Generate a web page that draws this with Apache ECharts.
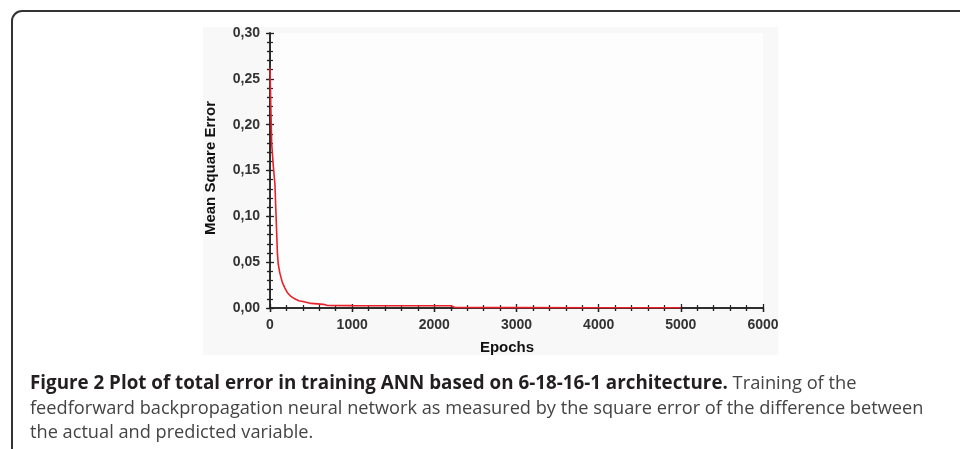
<!DOCTYPE html>
<html>
<head>
<meta charset="utf-8">
<script src="https://cdn.jsdelivr.net/npm/echarts@6/dist/echarts.min.js"></script>
<style>
html,body{margin:0;padding:0;background:#fff;}
#chart{width:960px;height:449px;}
</style>
</head>
<body>
<div id="chart"></div>
<script>
// Data
const epochs = [0, 10, 20, 40, 60, 70, 80, 90, 100, 120, 150, 180, 210, 250, 300, 350, 400, 500, 650, 700, 1000, 1500, 2000, 2200, 2250, 3000, 4000, 5000];
const mse    = [0.262, 0.22, 0.18, 0.155, 0.135, 0.11, 0.085, 0.06, 0.048, 0.038, 0.028, 0.022, 0.017, 0.013, 0.010, 0.008, 0.007, 0.005, 0.004, 0.0028, 0.0026, 0.0025, 0.0025, 0.0024, 0.0005, 0.0004, 0.0003, 0.0003];
const xTicks = [0, 1000, 2000, 3000, 4000, 5000, 6000];
const yTicks = [0, 0.05, 0.10, 0.15, 0.20, 0.25, 0.30];
const xTitle = 'Epochs';
const yTitle = 'Mean Square Error';
const captionBold = 'Figure 2 Plot of total error in training ANN based on 6-18-16-1 architecture.';
const captionLines = [
  ' Training of the',
  'feedforward backpropagation neural network as measured by the square error of the difference between',
  'the actual and predicted variable.'
];

const chart = echarts.init(document.getElementById('chart'));
const tickStyle = {color: '#222', width: 1.3};
const minorStyle = {color: '#222', width: 1.2};
const xMin = xTicks[0], xMax = xTicks[xTicks.length - 1];
const yMin = yTicks[0], yMax = yTicks[yTicks.length - 1];

function mkAxis(isX, extra) {
  return Object.assign({
    type: 'value',
    min: isX ? xMin : yMin, max: isX ? xMax : yMax, interval: isX ? 1000 : 0.05,
    splitLine: {show: false},
    axisLine: {show: true, lineStyle: {color: '#222', width: 1.5}},
    axisTick: {show: true, inside: true, length: 4, lineStyle: tickStyle},
    minorTick: {show: true, splitNumber: 5, length: 3, lineStyle: minorStyle},
    axisLabel: {show: false}
  }, extra);
}

const labelFont = {fontFamily: 'Liberation Sans, Arial, sans-serif', fontWeight: 'bold', fontSize: 14, color: '#333'};

chart.setOption({
  animation: false,
  backgroundColor: '#fff',
  grid: {left: 270, right: 197, top: 33, bottom: 141, containLabel: false},
  xAxis: [
    mkAxis(true, {position: 'bottom', axisTick: {show: true, inside: false, length: 4, lineStyle: tickStyle},
      axisLabel: Object.assign({show: true, margin: 10, formatter: v => String(v)}, labelFont)}),
    mkAxis(true, {position: 'bottom', axisLine: {show: false}}),
    mkAxis(true, {position: 'top'})
  ],
  yAxis: [
    mkAxis(false, {position: 'left', axisTick: {show: true, inside: false, length: 4, lineStyle: tickStyle},
      axisLabel: Object.assign({show: true, margin: 10, formatter: v => v.toFixed(2).replace('.', ',')}, labelFont)}),
    mkAxis(false, {position: 'left', axisLine: {show: false}}),
    mkAxis(false, {position: 'right', axisTick: {show: true, inside: true, length: 3, lineStyle: minorStyle}})
  ],
  series: [{
    type: 'line',
    xAxisIndex: 0, yAxisIndex: 0,
    data: epochs.map((e, i) => [e, mse[i]]),
    showSymbol: false,
    smooth: false,
    lineStyle: {color: '#e8202a', width: 1.6},
    z: 1
  }],
  graphic: [
    {type: 'rect', z: -10, silent: true, shape: {x: 203, y: 27, width: 575, height: 328}, style: {fill: '#f8f8f8'}},
    {type: 'rect', z: -5, silent: true, shape: {x: 270, y: 33, width: 493, height: 275}, style: {fill: '#fdfdfd'}},
    {type: 'rect', silent: true, shape: {x: 12, y: 11, width: 1200, height: 800, r: [10, 0, 0, 0]}, style: {fill: 'none', stroke: '#333', lineWidth: 2}},
    {type: 'text', silent: true, x: 507, y: 348, style: {text: xTitle, fontFamily: 'Liberation Sans, Arial, sans-serif', fontWeight: 'bold', fontSize: 15, fill: '#111', align: 'center', verticalAlign: 'middle'}},
    {type: 'text', silent: true, x: 211, y: 168, rotation: Math.PI / 2, style: {text: yTitle, fontFamily: 'Liberation Sans, Arial, sans-serif', fontWeight: 'bold', fontSize: 15, fill: '#111', align: 'center', verticalAlign: 'middle'}},
    {type: 'text', silent: true, x: 30, y: 384, style: {
      text: '{b|' + captionBold + '}{r|' + captionLines[0] + '}',
      verticalAlign: 'middle',
      rich: {
        b: {fontFamily: 'Open Sans, sans-serif', fontWeight: 'bold', fontSize: 18.8, fill: '#231f20'},
        r: {fontFamily: 'Open Sans, sans-serif', fontSize: 18.3, fill: '#444'}
      }
    }},
    {type: 'text', silent: true, x: 30, y: 409, style: {text: captionLines[1], fontFamily: 'Open Sans, sans-serif', fontSize: 18.2, fill: '#444', verticalAlign: 'middle'}},
    {type: 'text', silent: true, x: 30, y: 433, style: {text: captionLines[2], fontFamily: 'Open Sans, sans-serif', fontSize: 18.2, fill: '#444', verticalAlign: 'middle'}}
  ]
});
</script>
</body>
</html>
